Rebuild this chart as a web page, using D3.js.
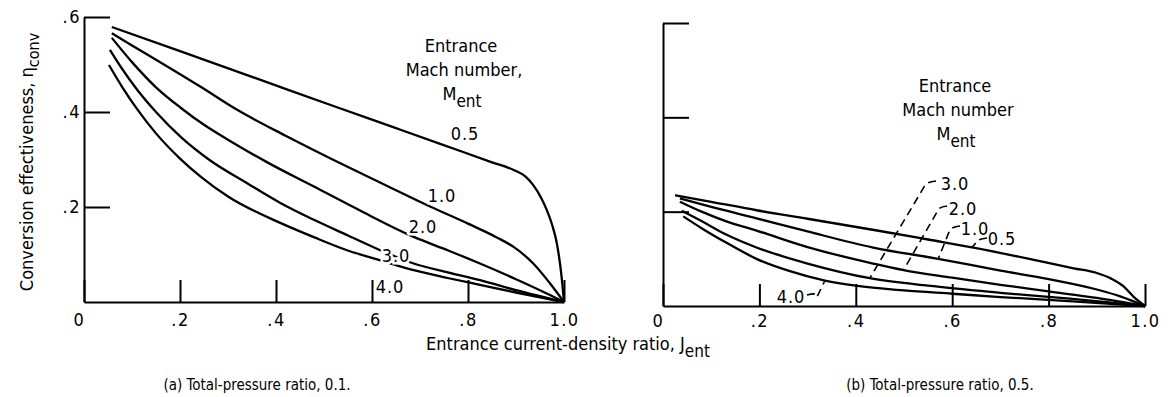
<!DOCTYPE html>
<html>
<head>
<meta charset="utf-8">
<script src="https://cdn.jsdelivr.net/npm/d3@7"></script>
<style>
  html, body { margin: 0; padding: 0; background: #fff; }
  svg { display: block; font-family: "DejaVu Sans Condensed", "DejaVu Sans", sans-serif; }
  text { fill: #000; }
</style>
</head>
<body>
<script>
// Axis ticks and labels
const xTicks = [0, 0.2, 0.4, 0.6, 0.8, 1.0];
const xTickLabels = ["0", ".2", ".4", ".6", ".8", "1.0"];
const yTicks = [0.2, 0.4, 0.6];
const yTickLabels = [".2", ".4", ".6"];
const machNumbers = ["0.5", "1.0", "2.0", "3.0", "4.0"];

// (a) Total-pressure ratio 0.1 : [J_ent, eta_conv]
const ratio01_M05 = [[0.058,0.579],[0.2,0.528],[0.35,0.474],[0.527,0.41],[0.65,0.366],[0.742,0.333],[0.85,0.294],[0.895,0.278],[0.92,0.264],[0.936,0.246],[0.952,0.22],[0.964,0.194],[0.976,0.16],[0.985,0.124],[0.995,0.053],[1.0,0]];
const ratio01_M10 = [[0.058,0.566],[0.1,0.54],[0.15,0.51],[0.243,0.453],[0.32,0.404],[0.42,0.35],[0.52,0.299],[0.62,0.25],[0.721,0.201],[0.8,0.165],[0.86,0.136],[0.895,0.116],[0.936,0.081],[0.971,0.039],[1.0,0]];
const ratio01_M20 = [[0.058,0.556],[0.1,0.505],[0.15,0.452],[0.2,0.41],[0.25,0.373],[0.306,0.338],[0.38,0.295],[0.479,0.243],[0.58,0.19],[0.687,0.137],[0.76,0.108],[0.825,0.081],[0.9,0.048],[0.964,0.018],[1.0,0]];
const ratio01_M30 = [[0.054,0.531],[0.08,0.49],[0.11,0.448],[0.15,0.4],[0.202,0.347],[0.26,0.3],[0.34,0.25],[0.41,0.208],[0.479,0.173],[0.55,0.14],[0.617,0.109],[0.687,0.081],[0.76,0.062],[0.825,0.046],[0.9,0.025],[1.0,0]];
const ratio01_M40 = [[0.052,0.499],[0.08,0.452],[0.11,0.407],[0.15,0.355],[0.2,0.302],[0.243,0.264],[0.3,0.222],[0.41,0.166],[0.48,0.136],[0.548,0.109],[0.62,0.087],[0.687,0.067],[0.76,0.05],[0.825,0.036],[0.9,0.02],[1.0,0]];

// (b) Total-pressure ratio 0.5 : [J_ent, eta_conv]
const ratio05_M05 = [[0.025,0.235],[0.1,0.221],[0.194,0.203],[0.3,0.185],[0.45,0.159],[0.55,0.141],[0.644,0.124],[0.75,0.102],[0.852,0.08],[0.9,0.07],[0.93,0.058],[0.955,0.042],[0.976,0.02],[1.0,0]];
const ratio05_M10 = [[0.035,0.228],[0.1,0.21],[0.194,0.186],[0.3,0.158],[0.436,0.124],[0.571,0.1],[0.7,0.075],[0.8,0.057],[0.9,0.035],[0.95,0.02],[1.0,0]];
const ratio05_M20 = [[0.035,0.221],[0.08,0.2],[0.13,0.18],[0.194,0.16],[0.3,0.125],[0.436,0.09],[0.499,0.076],[0.6,0.06],[0.7,0.045],[0.8,0.031],[0.9,0.017],[1.0,0]];
const ratio05_M30 = [[0.039,0.202],[0.08,0.18],[0.13,0.152],[0.194,0.124],[0.3,0.09],[0.429,0.059],[0.55,0.043],[0.7,0.028],[0.85,0.015],[1.0,0]];
const ratio05_M40 = [[0.042,0.19],[0.08,0.165],[0.13,0.135],[0.194,0.1],[0.26,0.075],[0.336,0.054],[0.4,0.043],[0.5,0.033],[0.6,0.026],[0.7,0.019],[0.85,0.01],[1.0,0]];

// J_ent at which each leader in panel (b) touches its curve
const ratio05LeaderJ = [0.641, 0.571, 0.499, 0.429, 0.336];

const W = 1169, H = 397;
const svg = d3.select("body").append("svg").attr("width", W).attr("height", H);
svg.append("rect").attr("width", W).attr("height", H).attr("fill", "#fff");

const xA = d3.scaleLinear().domain([0, 1]).range([84, 564]);
const yA = d3.scaleLinear().domain([0, 0.6]).range([302, 17]);
const xB = d3.scaleLinear().domain([0, 1]).range([663, 1145]);
const yB = d3.scaleLinear().domain([0, 0.6]).range([306, 23]);

function styleAxis(g) {
  g.selectAll("path.domain").attr("stroke", "#000").attr("stroke-width", 2);
  g.selectAll(".tick line").attr("stroke", "#000").attr("stroke-width", 2);
  g.selectAll(".tick text").attr("font-size", 18).attr("fill", "#000")
    .attr("font-family", "DejaVu Sans Condensed, DejaVu Sans, sans-serif")
    .attr("letter-spacing", 1.5);
}

function drawAxes(x, y, showYLabels, pad) {
  const gx = svg.append("g").attr("transform", `translate(0,${y(0)})`)
    .call(d3.axisBottom(x).tickValues(xTicks).tickSizeInner(-22).tickSizeOuter(0)
      .tickPadding(pad).tickFormat((d, i) => xTickLabels[i]));
  styleAxis(gx);
  gx.selectAll(".tick").filter(d => d === 0).select("text").attr("dx", -5);
  const gy = svg.append("g").attr("transform", `translate(${x(0)},0)`)
    .call(d3.axisLeft(y).tickValues(yTicks).tickSizeInner(-26).tickSizeOuter(0)
      .tickPadding(3).tickFormat((d, i) => showYLabels ? yTickLabels[i] : ""));
  styleAxis(gy);
}

drawAxes(xA, yA, true, 11);
drawAxes(xB, yB, false, 8);

function drawCurves(x, y, curves) {
  const line = d3.line().x(d => x(d[0])).y(d => y(d[1])).curve(d3.curveMonotoneX);
  svg.append("g").selectAll("path").data(curves).join("path")
    .attr("d", line).attr("fill", "none").attr("stroke", "#000")
    .attr("stroke-width", 2.3).attr("stroke-linejoin", "round");
}

const curvesA = [ratio01_M05, ratio01_M10, ratio01_M20, ratio01_M30, ratio01_M40];
const curvesB = [ratio05_M05, ratio05_M10, ratio05_M20, ratio05_M30, ratio05_M40];
drawCurves(xA, yA, curvesA);
drawCurves(xB, yB, curvesB);

// Curve labels for panel (a), sitting just above each curve
const labelPosA = [[465, 140], [442, 202], [423, 233], [396, 262], [390, 293]];
svg.append("g").selectAll("text").data(machNumbers).join("text")
  .attr("x", (d, i) => labelPosA[i][0]).attr("y", (d, i) => labelPosA[i][1])
  .attr("text-anchor", "middle").attr("font-size", 18).attr("letter-spacing", 1)
  .attr("stroke", "#fff").attr("stroke-width", 5).attr("paint-order", "stroke")
  .text(d => d);

// Curve labels and dashed leaders for panel (b)
function etaAt(curve, j) {
  for (let k = 1; k < curve.length; k++) {
    if (j <= curve[k][0]) {
      const [j0, e0] = curve[k - 1], [j1, e1] = curve[k];
      return e0 + (e1 - e0) * (j - j0) / (j1 - j0);
    }
  }
  return curve[curve.length - 1][1];
}
const labelPosB = [[1002, 245], [975, 235], [963, 215], [955, 190], [791, 303]];
const hookB = [[987, 238, 975, 241], [960, 226, 949, 229], [947, 206, 937, 209], [936, 181, 924, 184], [807, 295, 817, 294]];
svg.append("g").selectAll("text").data(machNumbers).join("text")
  .attr("x", (d, i) => labelPosB[i][0]).attr("y", (d, i) => labelPosB[i][1])
  .attr("text-anchor", "middle").attr("font-size", 18).attr("letter-spacing", 1)
  .text(d => d);
svg.append("g").selectAll("path").data(curvesB).join("path")
  .attr("d", (c, i) => {
    const [sx, sy, hx, hy] = hookB[i];
    const ex = xB(ratio05LeaderJ[i]), ey = yB(etaAt(c, ratio05LeaderJ[i]));
    const p = d3.path();
    p.moveTo(sx, sy);
    p.quadraticCurveTo(hx + 1, hy - 2, hx, hy + 3);
    p.lineTo(ex, ey);
    return p.toString();
  })
  .attr("fill", "none").attr("stroke", "#000").attr("stroke-width", 1.6)
  .attr("stroke-dasharray", "8,5");

// Legend titles
function legend(cx, y0, lines) {
  const g = svg.append("g").attr("font-size", 18).attr("text-anchor", "middle");
  g.append("text").attr("x", cx).attr("y", y0).text("Entrance");
  g.append("text").attr("x", cx + 3).attr("y", y0 + 24).text(lines);
  const t = g.append("text").attr("x", cx + 1).attr("y", y0 + 48);
  t.append("tspan").text("M");
  t.append("tspan").attr("dy", 7).attr("font-size", 17).text("ent");
}
legend(461, 52, "Mach number,");
legend(955, 92, "Mach number");

// Axis titles
const yTitle = svg.append("text").attr("transform", "translate(33,162) rotate(-90)")
  .attr("text-anchor", "middle").attr("font-size", 18);
yTitle.append("tspan").text("Conversion effectiveness,  \u03B7");
yTitle.append("tspan").attr("dy", 6).attr("font-size", 16).text("conv");

const xTitle = svg.append("text").attr("x", 568).attr("y", 350)
  .attr("text-anchor", "middle").attr("font-size", 18);
xTitle.append("tspan").text("Entrance current-density ratio,  J");
xTitle.append("tspan").attr("dy", 7).attr("font-size", 17).text("ent");

// Panel captions
svg.append("text").attr("x", 257).attr("y", 390).attr("text-anchor", "middle")
  .attr("font-size", 15).text("(a) Total-pressure ratio, 0.1.");
svg.append("text").attr("x", 940).attr("y", 390).attr("text-anchor", "middle")
  .attr("font-size", 15).text("(b) Total-pressure ratio, 0.5.");
</script>
</body>
</html>
